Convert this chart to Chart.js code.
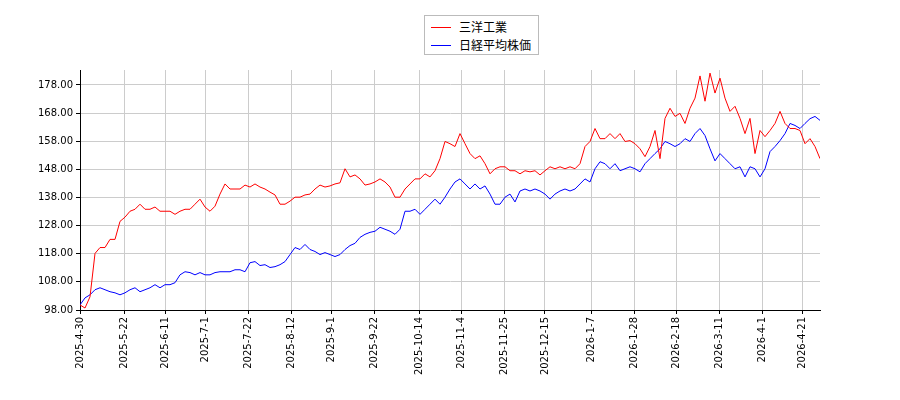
<!DOCTYPE html>
<html><head><meta charset="utf-8">
<script src="https://cdn.jsdelivr.net/npm/chart.js@4/dist/chart.umd.min.js"></script>
<style>body{margin:0;background:#fff}#wrap{position:relative;width:900px;height:400px}
#leg{position:absolute;left:424px;top:15px;width:115px;height:40px;border:1px solid #bbb;background:#fff;font:12px "Noto Sans CJK JP",sans-serif;box-sizing:border-box;padding:2px 6px}
#leg div{height:18px;line-height:18px;display:flex;align-items:center}#leg span{display:inline-block;width:20px;height:0;border-top:1.5px solid;margin-right:8px}</style>
</head><body><div id="wrap"><canvas id="c" width="900" height="400"></canvas>
<div id="leg"><div><span style="border-color:#f00"></span>三洋工業</div><div><span style="border-color:#00f"></span>日経平均株価</div></div></div>
<script>
const seriesNames=["三洋工業","日経平均株価"];
const tickDates=["2025-4-30","2025-5-22","2025-6-11","2025-7-1","2025-7-22","2025-8-12","2025-9-1","2025-9-22","2025-10-14","2025-11-4","2025-11-25","2025-12-15","2026-1-7","2026-1-28","2026-2-18","2026-3-11","2026-4-1","2026-4-21"];
const sanyo=[99.8,98.7,102.7,118.1,120.2,120.2,123.1,123.1,129.5,131.0,133.1,133.8,135.6,133.8,133.8,134.6,133.1,133.1,133.1,132.0,133.1,133.8,133.8,135.6,137.4,134.6,133.1,134.9,139.2,142.8,141.0,141.0,141.0,142.4,141.7,142.8,141.7,141.0,139.9,138.9,135.6,135.6,136.7,138.1,138.1,138.9,139.2,141.0,142.4,141.7,142.1,142.8,143.2,148.2,145.3,146.0,144.6,142.4,142.8,143.5,144.6,143.5,141.7,138.1,138.1,141.0,142.8,144.6,144.6,146.4,145.3,147.5,151.8,157.9,157.1,156.1,160.7,157.1,153.6,151.8,152.8,150.0,146.4,148.2,148.9,148.9,147.5,147.5,146.4,147.5,147.1,147.5,146.0,147.5,148.9,148.2,148.9,148.2,148.9,148.2,150.0,156.1,157.9,162.5,158.9,158.9,160.7,158.9,160.7,157.9,158.2,157.1,155.3,152.5,156.1,161.8,151.8,166.1,169.7,166.8,167.9,164.3,169.7,173.3,181.2,172.2,182.2,175.1,180.4,173.3,168.6,170.4,166.1,160.7,166.1,153.6,161.8,159.6,161.8,164.3,168.6,164.3,162.5,162.5,161.8,157.1,158.9,156.1,151.8];
const nikkei=[99.8,102.3,103.4,105.2,105.9,105.2,104.5,104.1,103.4,104.1,105.2,105.9,104.5,105.2,105.9,107.0,105.9,107.0,107.0,107.7,110.5,111.6,111.3,110.5,111.3,110.5,110.5,111.3,111.6,111.6,111.6,112.3,112.3,111.6,114.8,115.2,113.8,114.1,113.1,113.4,114.1,115.2,117.7,120.2,119.5,121.3,119.5,118.8,117.7,118.4,117.7,117.0,117.7,119.5,120.9,121.7,123.8,124.9,125.6,126.0,127.4,126.7,126.0,124.9,126.7,133.1,133.1,133.8,132.0,133.8,135.6,137.4,135.6,138.1,141.0,143.5,144.6,142.8,141.0,142.8,141.0,142.1,139.2,135.6,135.6,138.1,139.2,136.4,140.3,141.0,140.3,141.0,140.3,139.2,137.4,139.2,140.3,141.0,140.3,141.0,142.8,144.6,143.5,148.2,150.7,150.0,148.2,150.0,147.5,148.2,148.9,148.2,147.1,150.0,151.8,153.6,155.3,157.9,157.1,156.1,157.1,158.9,157.9,160.7,162.5,160.0,155.3,151.0,153.6,151.8,150.0,148.2,148.9,145.3,148.9,148.2,145.3,148.2,154.3,156.1,158.2,160.7,164.3,163.6,162.5,164.3,166.0,166.8,165.4];
const yTicks=[98,108,118,128,138,148,158,168,178];
const tickDays=[0,22,42,62,83,104,124,145,167,188,209,229,252,273,294,315,336,356];
const step=364.5/(sanyo.length-1);
const pts=a=>a.map((v,i)=>({x:i*step,y:v}));
new Chart(document.getElementById('c'),{type:'line',
data:{datasets:[{label:seriesNames[0],data:pts(sanyo),borderColor:'#f00',borderWidth:1,pointRadius:0,tension:0},
{label:seriesNames[1],data:pts(nikkei),borderColor:'#00f',borderWidth:1,pointRadius:0,tension:0}]},
options:{responsive:false,animation:false,layout:{padding:{top:70,right:80,left:0,bottom:0}},
plugins:{legend:{display:false},tooltip:{enabled:false}},
scales:{x:{type:'linear',min:0,max:364.5,
afterBuildTicks:s=>{s.ticks=tickDays.map(v=>({value:v}))},
afterFit:s=>{s.height=90},
ticks:{autoSkip:false,minRotation:90,maxRotation:90,color:'#000',font:{family:'DejaVu Sans',size:10},callback:(v,i)=>tickDates[i]},
grid:{color:'#ccc',tickColor:'#000',tickLength:4},border:{color:'#000'}},
y:{min:98,max:183.3,afterBuildTicks:s=>{s.ticks=yTicks.map(v=>({value:v}))},
afterFit:s=>{s.width=80},
ticks:{color:'#000',font:{family:'DejaVu Sans',size:10},callback:v=>v.toFixed(2)},
grid:{color:'#ccc',tickColor:'#000',tickLength:4},border:{color:'#000'}}}}});
</script></body></html>
